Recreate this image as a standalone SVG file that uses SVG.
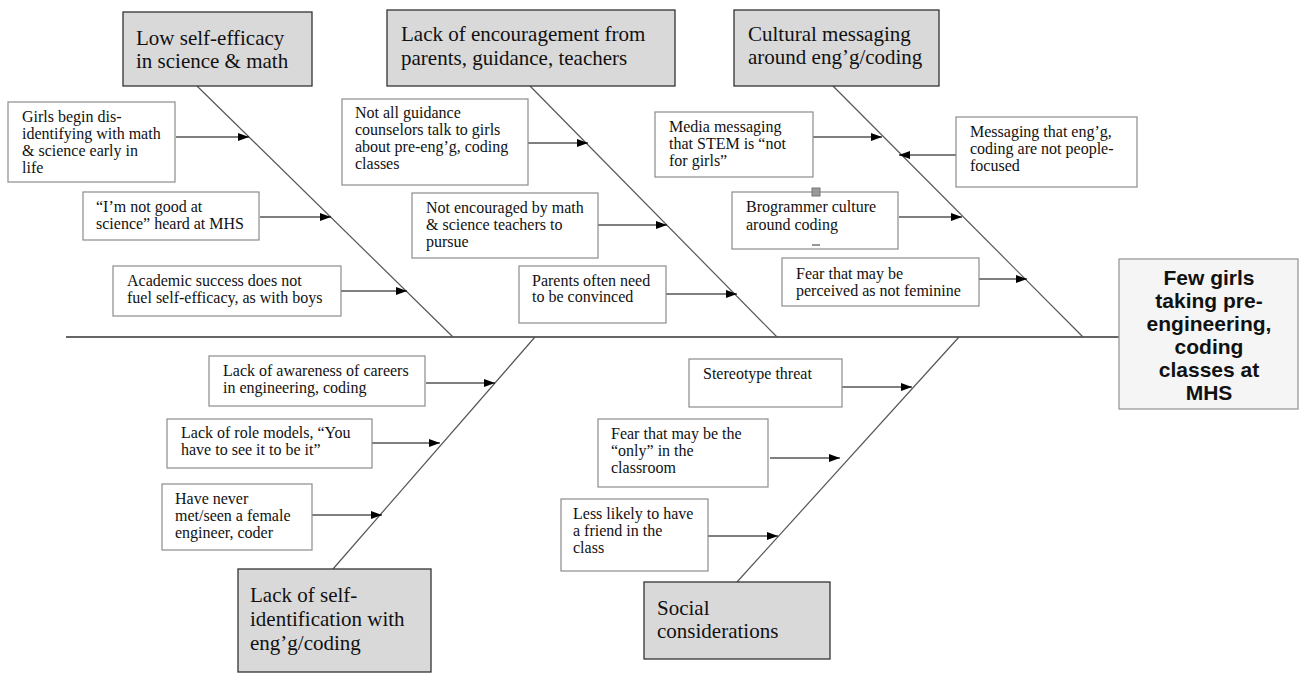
<svg xmlns="http://www.w3.org/2000/svg" width="1303" height="673" viewBox="0 0 1303 673">
<style>
.bg{fill:#ffffff}
.cat rect{fill:#d9d9d9;stroke:#333333;stroke-width:1.3}
.cat text{font-family:"Liberation Serif","Times New Roman","DejaVu Serif",serif;font-size:21px;fill:#111}
.cause rect{fill:#ffffff;stroke:#8c8c8c;stroke-width:1.2}
.cause text{font-family:"Liberation Serif","Times New Roman","DejaVu Serif",serif;font-size:16px;fill:#111}
.effect rect{fill:#f5f5f5;stroke:#999999;stroke-width:1.3}
.effect text{font-family:"Liberation Sans",Arial,sans-serif;font-size:21px;font-weight:bold;fill:#111;text-anchor:middle}
.bone{stroke:#555555;stroke-width:1.2;fill:none}
.spine{stroke:#333333;stroke-width:1.5;fill:none}
.arr{stroke:#000;stroke-width:1.2;fill:none;marker-end:url(#ah)}
</style>
<defs>
<marker id="ah" markerWidth="11" markerHeight="8" refX="11" refY="4" orient="auto" markerUnits="userSpaceOnUse">
<path d="M0,0 L11,4 L0,8 Z" fill="#000"/>
</marker>
</defs>
<rect class="bg" x="0" y="0" width="1303" height="673"/>

<g id="connectors">
<line class="spine" x1="66" y1="337" x2="1119" y2="337"/>
<line class="bone" x1="197" y1="86" x2="453" y2="337"/>
<line class="bone" x1="530" y1="86" x2="777" y2="337"/>
<line class="bone" x1="833" y1="86" x2="1083" y2="337"/>
<line class="bone" x1="535" y1="337" x2="333" y2="569"/>
<line class="bone" x1="959" y1="337" x2="737" y2="582"/>
<line class="arr" x1="176" y1="137" x2="249" y2="137"/>
<line class="arr" x1="260" y1="217" x2="331" y2="217"/>
<line class="arr" x1="340" y1="291" x2="407" y2="291"/>
<line class="arr" x1="523" y1="143" x2="588" y2="143"/>
<line class="arr" x1="598" y1="225" x2="667" y2="225"/>
<line class="arr" x1="666" y1="294" x2="737" y2="294"/>
<line class="arr" x1="813" y1="137" x2="882" y2="137"/>
<line class="arr" x1="960" y1="155" x2="899" y2="155"/>
<line class="arr" x1="899" y1="217" x2="962" y2="217"/>
<line class="arr" x1="979" y1="279" x2="1027" y2="279"/>
<line class="arr" x1="426" y1="383" x2="495" y2="383"/>
<line class="arr" x1="372" y1="443" x2="440" y2="443"/>
<line class="arr" x1="312" y1="515" x2="382" y2="515"/>
<line class="arr" x1="842" y1="387" x2="912" y2="387"/>
<line class="arr" x1="770" y1="458" x2="840" y2="458"/>
<line class="arr" x1="708" y1="536" x2="778" y2="536"/>
</g>

<g id="cat-low-self-efficacy" class="cat">
<rect x="123" y="12" width="189" height="74"/>
<text x="136" y="45">Low self-efficacy</text>
<text x="136" y="68">in science &amp; math</text>
</g>
<g id="cat-lack-encouragement" class="cat">
<rect x="387" y="10" width="288" height="76"/>
<text x="401" y="41">Lack of encouragement from</text>
<text x="401" y="65">parents, guidance, teachers</text>
</g>
<g id="cat-cultural" class="cat">
<rect x="734" y="10" width="205" height="76"/>
<text x="748" y="41">Cultural messaging</text>
<text x="748" y="64">around eng’g/coding</text>
</g>
<g id="cat-self-identification" class="cat">
<rect x="238" y="569" width="193" height="103"/>
<text x="250" y="602">Lack of self-</text>
<text x="250" y="626">identification with</text>
<text x="250" y="650">eng’g/coding</text>
</g>
<g id="cat-social" class="cat">
<rect x="644" y="582" width="186" height="77"/>
<text x="657" y="615">Social</text>
<text x="657" y="638">considerations</text>
</g>

<g id="effect" class="effect">
<rect x="1119" y="259" width="179" height="150"/>
<text x="1209" y="285">Few girls</text>
<text x="1209" y="308">taking pre-</text>
<text x="1209" y="331">engineering,</text>
<text x="1209" y="354">coding</text>
<text x="1209" y="377">classes at</text>
<text x="1209" y="400">MHS</text>
</g>

<g id="cause-disidentifying" class="cause">
<rect x="8" y="102" width="167" height="80"/>
<text x="22" y="122">Girls begin dis-</text>
<text x="22" y="139">identifying with math</text>
<text x="22" y="156">&amp; science early in</text>
<text x="22" y="173">life</text>
</g>
<g id="cause-not-good" class="cause">
<rect x="83" y="192" width="176" height="48"/>
<text x="96" y="212">“I’m not good at</text>
<text x="96" y="229">science” heard at MHS</text>
</g>
<g id="cause-academic" class="cause">
<rect x="113" y="266" width="228" height="50"/>
<text x="127" y="286">Academic success does not</text>
<text x="127" y="303">fuel self-efficacy, as with boys</text>
</g>
<g id="cause-guidance" class="cause">
<rect x="342" y="99" width="186" height="86"/>
<text x="355" y="118">Not all guidance</text>
<text x="355" y="135">counselors talk to girls</text>
<text x="355" y="152">about pre-eng’g, coding</text>
<text x="355" y="169">classes</text>
</g>
<g id="cause-teachers" class="cause">
<rect x="412" y="193" width="186" height="65"/>
<text x="426" y="213">Not encouraged by math</text>
<text x="426" y="230">&amp; science teachers to</text>
<text x="426" y="247">pursue</text>
</g>
<g id="cause-parents" class="cause">
<rect x="519" y="266" width="147" height="57"/>
<text x="532" y="286">Parents often need</text>
<text x="532" y="302">to be convinced</text>
</g>
<g id="cause-media" class="cause">
<rect x="655" y="112" width="158" height="65"/>
<text x="669" y="132">Media messaging</text>
<text x="669" y="149">that STEM is “not</text>
<text x="669" y="166">for girls”</text>
</g>
<g id="cause-people-focused" class="cause">
<rect x="956" y="117" width="181" height="70"/>
<text x="970" y="137">Messaging that eng’g,</text>
<text x="970" y="154">coding are not people-</text>
<text x="970" y="171">focused</text>
</g>
<g id="cause-brogrammer" class="cause">
<rect x="732" y="192" width="166" height="57"/>
<text x="746" y="212">Brogrammer culture</text>
<text x="746" y="230">around coding</text>
<line x1="812" y1="245" x2="820" y2="245" stroke="#333" stroke-width="1"/>
<rect x="812" y="188" width="8" height="8" style="fill:#999;stroke:#777;stroke-width:1"/>
</g>
<g id="cause-feminine" class="cause">
<rect x="782" y="258" width="197" height="48"/>
<text x="796" y="279">Fear that may be</text>
<text x="796" y="296">perceived as not feminine</text>
</g>
<g id="cause-awareness" class="cause">
<rect x="209" y="356" width="216" height="50"/>
<text x="223" y="376">Lack of awareness of careers</text>
<text x="223" y="393">in engineering, coding</text>
</g>
<g id="cause-role-models" class="cause">
<rect x="167" y="419" width="205" height="49"/>
<text x="181" y="438">Lack of role models, “You</text>
<text x="181" y="455">have to see it to be it”</text>
</g>
<g id="cause-never-met" class="cause">
<rect x="162" y="484" width="150" height="66"/>
<text x="175" y="504">Have never</text>
<text x="175" y="521">met/seen a female</text>
<text x="175" y="538">engineer, coder</text>
</g>
<g id="cause-stereotype" class="cause">
<rect x="689" y="359" width="153" height="48"/>
<text x="703" y="379">Stereotype threat</text>
</g>
<g id="cause-only" class="cause">
<rect x="598" y="419" width="170" height="68"/>
<text x="611" y="439">Fear that may be the</text>
<text x="611" y="456">“only” in the</text>
<text x="611" y="473">classroom</text>
</g>
<g id="cause-friend" class="cause">
<rect x="561" y="499" width="147" height="72"/>
<text x="573" y="519">Less likely to have</text>
<text x="573" y="536">a friend in the</text>
<text x="573" y="553">class</text>
</g>
</svg>
